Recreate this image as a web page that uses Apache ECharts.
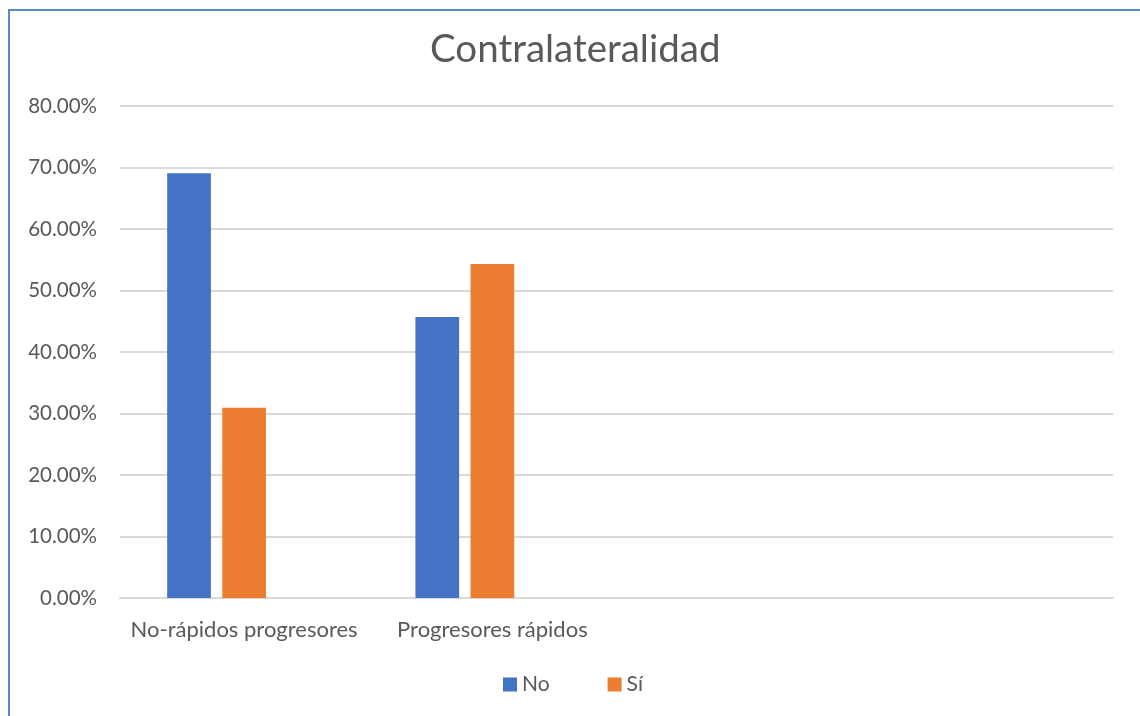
<!DOCTYPE html>
<html>
<head>
<meta charset="utf-8">
<script src="https://cdn.jsdelivr.net/npm/echarts@6/dist/echarts.min.js"></script>
<style>
  html, body { margin: 0; padding: 0; background: #fff; }
  #frame { position: absolute; left: 8px; top: 9px; width: 1200px; height: 800px;
           border-left: 2px solid #5b87c5; border-top: 2px solid #5b87c5; box-sizing: border-box; }
  #chart { position: absolute; left: 0; top: 0; width: 1140px; height: 716px; }
</style>
</head>
<body>
<div id="frame"></div>
<div id="chart"></div>
<script>
// Category axis: two groups plus two empty slots
const categories = ['No-rápidos progresores', 'Progresores rápidos', '', ''];
const seriesNo = [69.05, 45.71, null, null];
const seriesSi = [30.95, 54.29, null, null];
const seriesBlank = [null, null, null, null];
const yTicks = [0, 10, 20, 30, 40, 50, 60, 70, 80];

const FONT = 'Lato, "Open Sans", sans-serif';
const GREY = '#595959';

const chart = echarts.init(document.getElementById('chart'), null, { renderer: 'canvas' });
chart.setOption({
  animation: false,
  backgroundColor: 'transparent',
  title: {
    text: 'Contralateralidad',
    left: 425,
    top: 25,
    textStyle: { fontFamily: FONT, fontSize: 38.5, fontWeight: 'normal', color: GREY }
  },
  legend: {
    data: ['No', 'Sí'],
    bottom: 16,
    left: 498,
    itemWidth: 14,
    itemHeight: 14,
    itemGap: 58,
    icon: 'rect',
    textStyle: { fontFamily: FONT, fontSize: 21, color: GREY }
  },
  grid: { left: 120, right: 27, top: 106, bottom: 118, containLabel: false },
  xAxis: {
    type: 'category',
    data: categories,
    axisLine: { lineStyle: { color: '#d9d9d9', width: 2 } },
    axisTick: { show: false },
    axisLabel: { fontFamily: FONT, fontSize: 22, color: GREY, margin: 21, interval: 0 }
  },
  yAxis: {
    type: 'value',
    min: yTicks[0],
    max: yTicks[yTicks.length - 1],
    interval: 10,
    axisLine: { show: false },
    axisTick: { show: false },
    splitLine: { lineStyle: { color: '#d9d9d9', width: 2 } },
    axisLabel: {
      fontFamily: FONT, fontSize: 20.5, color: GREY, margin: 23,
      formatter: v => v.toFixed(2) + '%'
    }
  },
  series: [
    { name: 'No', type: 'bar', data: seriesNo, itemStyle: { color: '#4472c4' },
      barGap: '26%', barCategoryGap: '38%' },
    { name: 'Sí', type: 'bar', data: seriesSi, itemStyle: { color: '#ed7d31' } },
    { name: '', type: 'bar', data: seriesBlank, itemStyle: { color: '#a5a5a5' } }
  ]
});
</script>
</body>
</html>
